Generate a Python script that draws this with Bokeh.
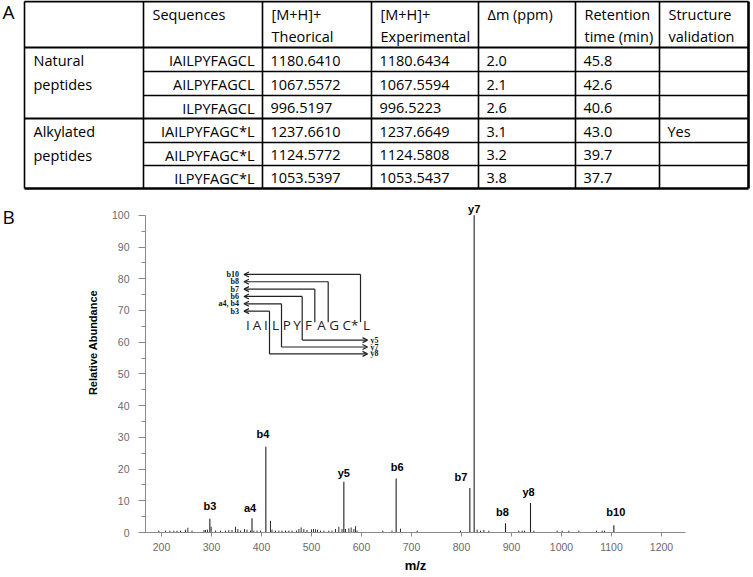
import numpy as np
from bokeh.plotting import figure
from bokeh.layouts import column, row
from bokeh.models import (Range1d, SingleIntervalTicker, Arrow, OpenHead,
                          ColumnDataSource)
from bokeh.core.properties import value
from bokeh.embed import file_html
from bokeh.resources import INLINE

# ---------------- data: table (panel A) ----------------
col_headers = ["", "Sequences", "[M+H]+|Theorical", "[M+H]+|Experimental",
               "Δm (ppm)", "Retention|time (min)", "Structure|validation"]
group_names = ["Natural|peptides", "Alkylated|peptides"]
group_sizes = [3, 3]
sequences = ["IAILPYFAGCL", "AILPYFAGCL", "ILPYFAGCL",
             "IAILPYFAGC*L", "AILPYFAGC*L", "ILPYFAGC*L"]
mh_theorical = [1180.6410, 1067.5572, 996.5197, 1237.6610, 1124.5772, 1053.5397]
mh_experimental = [1180.6434, 1067.5594, 996.5223, 1237.6649, 1124.5808, 1053.5437]
delta_ppm = [2.0, 2.1, 2.6, 3.1, 3.2, 3.8]
retention_min = [45.8, 42.6, 40.6, 43.0, 39.7, 37.7]
structure_validation = ["", "", "", "Yes", "", ""]

# ---------------- data: MS/MS spectrum (panel B) ----------------
ion_labels = ["b3", "a4", "b4", "y5", "b6", "b7", "y7", "b8", "y8", "b10"]
ion_mz = [296.7, 381.0, 408.7, 564.7, 669.3, 816.7, 825.3, 888.0, 938.0, 1104.7]
ion_abundance = [4.3, 4.5, 27.0, 16.0, 17.0, 14.0, 100.0, 2.9, 9.3, 2.3]

other_mz = [194.7, 208.0, 216.7, 224.7, 231.0, 238.0, 248.0, 252.7, 261.0, 285.0,
            288.0, 292.0, 299.3, 308.0, 318.0, 328.0, 334.7, 341.0, 348.0, 352.7,
            358.0, 366.0, 371.0, 378.0, 384.7, 391.0, 398.0, 418.0, 421.0, 428.0,
            434.7, 441.0, 448.0, 454.7, 461.0, 470.0, 474.7, 479.3, 484.7, 491.0,
            500.0, 504.0, 508.0, 512.0, 518.0, 524.7, 534.7, 541.0, 548.0, 554.7,
            561.0, 568.0, 574.7, 579.3, 584.7, 588.0, 591.0, 642.7, 661.0, 678.0,
            711.3, 798.0, 831.3, 838.0, 844.7, 854.7, 914.7, 921.3, 926.0, 944.7,
            991.3, 1001.3, 1014.7, 1034.7, 1070.0, 1081.3, 1086.0]
other_abundance = [0.6, 0.6, 0.6, 0.6, 0.6, 0.6, 0.9, 1.5, 0.6, 0.8,
                   0.8, 0.9, 1.8, 0.6, 0.6, 0.6, 0.8, 0.8, 1.8, 1.1,
                   0.6, 1.1, 0.9, 0.6, 0.6, 0.6, 0.6, 3.7, 0.9, 0.6,
                   0.6, 0.6, 0.6, 0.6, 0.6, 0.6, 1.1, 1.6, 1.1, 0.8,
                   1.0, 1.1, 1.0, 0.9, 0.6, 0.6, 0.6, 0.6, 1.1, 1.8,
                   1.1, 1.1, 1.3, 1.6, 1.1, 2.0, 0.6, 0.6, 0.6, 1.2,
                   0.6, 0.6, 0.9, 0.6, 0.8, 0.6, 0.6, 0.6, 0.6, 0.6,
                   0.6, 0.6, 0.6, 0.6, 0.6, 0.6, 0.6]

# fragmentation scheme of IAILPYFAGC*L
residues = ["I", "A", "I", "L", "P", "Y", "F", "A", "G", "C*", "L"]
b_ions = ["b10", "b8", "b7", "b6", "a4, b4", "b3"]
b_cut = [10, 8, 7, 6, 4, 3]
y_ions = ["y5", "y7", "y8"]
y_len = [5, 7, 8]

# ---------------- layout / style ----------------
W = 750
TH = 198
SH = 377
LW = 100
TFONT = value("Open Sans")
AFONT = value("Liberation Sans")


def bare(fig):
    fig.grid.visible = False
    fig.outline_line_color = None
    fig.background_fill_color = "white"
    fig.frame_align = False
    return fig


# ======== panel A: the table ========
t = bare(figure(width=W, height=TH, x_range=Range1d(0, W), y_range=Range1d(TH, 0),
                output_backend="svg", toolbar_location=None,
                x_axis_location=None, y_axis_location=None, min_border=0))

xs = [24, 143, 262, 371, 478, 575, 659, 748]
ys = [1, 47, 71, 95, 118, 142, 165, 188]

t.segment(x0=[xs[0]] * 3, y0=[ys[0], ys[1], ys[4]], x1=[xs[-1]] * 3,
          y1=[ys[0], ys[1], ys[4]], line_color="black", line_width=1.8)
t.segment(x0=[xs[0]], y0=[ys[-1]], x1=[xs[-1]], y1=[ys[-1]],
          line_color="black", line_width=2.6)
inner_rows = [ys[2], ys[3], ys[5], ys[6]]
t.segment(x0=[xs[1]] * 4, y0=inner_rows, x1=[xs[-1]] * 4, y1=inner_rows,
          line_color="black", line_width=1.5)
t.segment(x0=xs[:-1], y0=[ys[0]] * 7, x1=xs[:-1], y1=[ys[-1]] * 7,
          line_color="black", line_width=1.6)
t.segment(x0=[xs[-1]], y0=[ys[0]], x1=[xs[-1]], y1=[ys[-1]],
          line_color="black", line_width=2.6)

tk = dict(text_font=TFONT, text_font_size="14.5px", text_color="black",
          text_baseline="middle")
hx, hy, ht = [], [], []
for j, h in enumerate(col_headers):
    for k, line in enumerate(h.split("|")):
        if line:
            hx.append(xs[j] + 9)
            hy.append(14 + 22 * k)
            ht.append(line)
t.text(x=hx, y=hy, text=ht, text_align="left", **tk)

row_c = [(ys[i + 1] + ys[i + 2]) / 2 + 1 for i in range(6)]
t.text(x=[xs[2] - 8] * 6, y=row_c, text=sequences, text_align="right", **tk)
cols_txt = [[f"{v:.4f}" for v in mh_theorical],
            [f"{v:.4f}" for v in mh_experimental],
            [f"{v:.1f}" for v in delta_ppm],
            [f"{v:.1f}" for v in retention_min],
            structure_validation]
for j, col in enumerate(cols_txt):
    t.text(x=[xs[j + 2] + 8] * 6, y=row_c, text=col, text_align="left", **tk)

gx, gy, gt = [], [], []
start = 0
for g, n in zip(group_names, group_sizes):
    for k, line in enumerate(g.split("|")):
        gx.append(xs[0] + 9)
        gy.append(row_c[start + k])
        gt.append(line)
    start += n
t.text(x=gx, y=gy, text=gt, text_align="left", **tk)
t.text(x=[2], y=[11], text=["A"], text_align="left", text_baseline="middle",
       text_font=TFONT, text_font_size="19px", text_color="black")

# ======== panel B: left strip with panel letter and y title ========
lf = bare(figure(width=LW, height=SH, x_range=Range1d(0, LW), y_range=Range1d(SH, 0),
                 output_backend="svg", toolbar_location=None,
                 x_axis_location=None, y_axis_location=None, min_border=0))
lf.text(x=[2], y=[18], text=["B"], text_align="left", text_baseline="middle",
        text_font=TFONT, text_font_size="19px", text_color="black")
lf.text(x=[92], y=[144], text=["Relative Abundance"], angle=np.pi / 2,
        text_align="center", text_baseline="middle", text_font=AFONT,
        text_font_style="bold", text_font_size="11px", text_color="black")

# ======== panel B: spectrum ========
X0, X1 = 168, 1248
Y1 = 105.3
p = bare(figure(width=W - LW, height=SH, x_range=Range1d(X0, X1),
                y_range=Range1d(0, Y1), output_backend="svg", toolbar_location=None,
                min_border_left=145 - LW, min_border_right=W - 685,
                min_border_top=0, min_border_bottom=0))

p.xaxis.ticker = SingleIntervalTicker(interval=100, num_minor_ticks=0)
p.yaxis.ticker = SingleIntervalTicker(interval=10, num_minor_ticks=2)
p.yaxis.bounds = (0, 100)
for ax in (p.xaxis[0], p.yaxis[0]):
    ax.axis_line_color = "#8a8a8a"
    ax.major_tick_line_color = "#8a8a8a"
    ax.minor_tick_line_color = "#8a8a8a"
    ax.major_tick_in = 0
    ax.minor_tick_in = 0
    ax.major_label_text_font = "Liberation Sans"
    ax.major_label_text_font_size = "10.5px"
    ax.major_label_text_color = "#6a6a6a"
p.xaxis.major_tick_out = 4
p.xaxis.major_label_standoff = 6
p.yaxis.major_tick_out = 7
p.yaxis.minor_tick_out = 4
p.yaxis.major_label_standoff = 9
p.xaxis.axis_label = "m/z"
p.xaxis.axis_label_text_font = "Liberation Sans"
p.xaxis.axis_label_text_font_style = "bold"
p.xaxis.axis_label_text_font_size = "13px"
p.xaxis.axis_label_text_color = "black"
p.xaxis.axis_label_standoff = 4

p.segment(x0=other_mz, y0=0, x1=other_mz, y1=other_abundance,
          line_color="#333333", line_width=1)
p.segment(x0=ion_mz, y0=0, x1=ion_mz, y1=ion_abundance,
          line_color="#222222", line_width=1.1)

lab_dx = [0, -2, -3, 0, 1, -9, 0, -3, -2, 2]
lab_up = [12.6, 10.7, 13, 8.6, 12, 11.3, 6.5, 11, 11.3, 13]
p.text(x=ion_mz, y=ion_abundance, text=ion_labels, x_offset=lab_dx,
       y_offset=[-u for u in lab_up], text_align="center", text_baseline="middle",
       text_font=AFONT, text_font_style="bold", text_font_size="11px",
       text_color="black")


# helpers mapping the reference page layout onto data units (schematic only)
def mz_at(px):
    return 200 + (px - 161) * 2.0


def ab_at(py):
    return (537 - py) / 3.22


slot_px = [7, 11, 7, 12, 10.5, 10.2, 12.6, 13.4, 12, 20.3, 12]
edges_px = np.concatenate([[244.0], 244.0 + np.cumsum(slot_px)])
centers_px = (edges_px[:-1] + edges_px[1:]) / 2
b_row_py = [275 + i * 7.46 for i in range(len(b_ions))]
y_row_py = [341.7 + i * 7.0 for i in range(len(y_ions))]
n_res = len(residues)

p.text(x=[mz_at(c) for c in centers_px], y=[ab_at(326.5)] * n_res, text=residues,
       text_align="center", text_baseline="middle", text_font=TFONT,
       text_font_size="13.5px", text_color="#222222")

vx0, vy0, vx1, vy1 = [], [], [], []
ax0, ay0, ax1, ay1 = [], [], [], []
y_cut = [n_res - L for L in y_len]
for lab, k, py in zip(b_ions, b_cut, b_row_py):
    cx = mz_at(edges_px[k])
    bottom = 323.5
    if k in y_cut:
        bottom = y_row_py[y_cut.index(k)]
    vx0.append(cx); vy0.append(ab_at(py)); vx1.append(cx); vy1.append(ab_at(bottom))
    ax0.append(cx); ay0.append(ab_at(py)); ax1.append(mz_at(243.5)); ay1.append(ab_at(py))
for k, py in zip(y_cut, y_row_py):
    cx = mz_at(edges_px[k])
    if k not in b_cut:
        vx0.append(cx); vy0.append(ab_at(329)); vx1.append(cx); vy1.append(ab_at(py))
    ax0.append(cx); ay0.append(ab_at(py)); ax1.append(mz_at(367)); ay1.append(ab_at(py))

p.segment(x0=vx0, y0=vy0, x1=vx1, y1=vy1, line_color="#222222", line_width=1.2)
arr_src = ColumnDataSource(dict(x0=ax0, y0=ay0, x1=ax1, y1=ay1))
p.add_layout(Arrow(end=OpenHead(size=5, line_width=1.2, line_color="#222222"),
                   source=arr_src, x_start="x0", y_start="y0", x_end="x1", y_end="y1",
                   line_width=1.2, line_color="#222222"))

sk = dict(text_baseline="middle", text_font=value("Liberation Serif"),
          text_font_style="bold", text_font_size="8px", text_color="#111111")
p.text(x=[mz_at(238.5)] * len(b_ions), y=[ab_at(v) for v in b_row_py], text=b_ions,
       text_align="right", **sk)
p.text(x=[mz_at(370)] * len(y_ions), y=[ab_at(v) for v in y_row_py], text=y_ions,
       text_align="left", **sk)

layout = column(t, row(lf, p, spacing=0), spacing=0)
open("out.html", "w").write(file_html(layout, INLINE))
